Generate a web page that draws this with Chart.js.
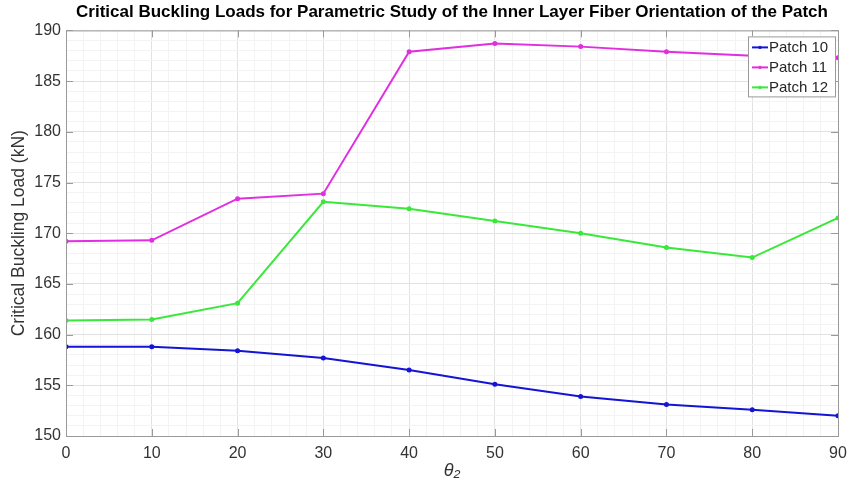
<!DOCTYPE html>
<html>
<head>
<meta charset="utf-8">
<script src="https://cdn.jsdelivr.net/npm/chart.js@4/dist/chart.umd.min.js"></script>
<style>
  html, body { margin: 0; padding: 0; background: #fff; }
  #wrap { width: 858px; height: 492px; }
</style>
</head>
<body>
<div id="wrap"><canvas id="c" width="858" height="492"></canvas></div>
<script>
// θ2 values (deg)
const theta = [0, 10, 20, 30, 40, 50, 60, 70, 80, 90];
// critical buckling loads (kN)
const patch10 = [158.8, 158.8, 158.4, 157.7, 156.5, 155.1, 153.9, 153.1, 152.6, 152.0];
const patch11 = [169.2, 169.3, 173.4, 173.9, 187.9, 188.7, 188.4, 187.9, 187.5, 187.3];
const patch12 = [161.4, 161.5, 163.1, 173.1, 172.4, 171.2, 170.0, 168.6, 167.6, 171.5];

const FONT = '"Liberation Sans", Arial, sans-serif';

const toXY = (ys) => ys.map((y, i) => ({ x: theta[i], y }));

const mkSet = (label, ys, color) => ({
    label,
    data: toXY(ys),
    borderColor: color,
    backgroundColor: color,
    borderWidth: 2,
    pointRadius: 1.5,
    pointHoverRadius: 2,
    tension: 0,
    fill: false,
});

// box round the plot, like MATLAB "box on"
const boxPlugin = {
    id: 'box',
    afterDraw(chart) {
        const { ctx, chartArea: a } = chart;
        ctx.save();
        ctx.strokeStyle = '#9a9a9a';
        ctx.lineWidth = 1;
        ctx.strokeRect(a.left + 0.5, a.top + 0.5, a.right - a.left, a.bottom - a.top);
        // inward tick marks
        const xs = chart.scales.x, ys = chart.scales.y;
        ctx.beginPath();
        for (let v = 0; v <= 90; v += 10) {
            const px = Math.round(xs.getPixelForValue(v)) + 0.5;
            ctx.moveTo(px, a.bottom); ctx.lineTo(px, a.bottom - 7);
            ctx.moveTo(px, a.top); ctx.lineTo(px, a.top + 7);
        }
        for (let v = 150; v <= 190; v += 5) {
            const py = Math.round(ys.getPixelForValue(v)) + 0.5;
            ctx.moveTo(a.left, py); ctx.lineTo(a.left + 7, py);
            ctx.moveTo(a.right, py); ctx.lineTo(a.right - 7, py);
        }
        ctx.stroke();
        ctx.restore();
    },
};

// legend drawn inside the top-right corner
const legendPlugin = {
    id: 'insideLegend',
    afterDraw(chart) {
        const { ctx, chartArea: a } = chart;
        const sets = chart.data.datasets;
        const w = 87, rowH = 20;
        const x0 = a.right - w - 3, y0 = a.top + 6;
        const h = rowH * sets.length;
        ctx.save();
        ctx.fillStyle = '#fff';
        ctx.fillRect(x0, y0, w, h);
        ctx.strokeStyle = '#9a9a9a';
        ctx.lineWidth = 1;
        ctx.strokeRect(x0 + 0.5, y0 + 0.5, w, h);
        ctx.font = '15px ' + FONT;
        ctx.textBaseline = 'middle';
        sets.forEach((ds, i) => {
            const cy = y0 + rowH * i + rowH / 2 + 1;
            ctx.strokeStyle = ds.borderColor;
            ctx.lineWidth = 2;
            ctx.beginPath();
            ctx.moveTo(x0 + 4, cy); ctx.lineTo(x0 + 20, cy);
            ctx.stroke();
            ctx.fillStyle = ds.borderColor;
            ctx.beginPath();
            ctx.arc(x0 + 12, cy, 1.6, 0, Math.PI * 2);
            ctx.fill();
            ctx.fillStyle = '#262626';
            ctx.fillText(ds.label, x0 + 21, cy);
        });
        ctx.restore();
    },
};

const isMajor = (v, step) => Math.abs(v / step - Math.round(v / step)) < 1e-6;

new Chart(document.getElementById('c'), {
    type: 'line',
    data: {
        datasets: [
            mkSet('Patch 10', patch10, '#1414d4'),
            mkSet('Patch 11', patch11, '#e02ee0'),
            mkSet('Patch 12', patch12, '#3ae83a'),
        ],
    },
    options: {
        responsive: false,
        animation: false,
        events: [],
        layout: { padding: { left: 0, right: 20, top: 0, bottom: 0 } },
        plugins: {
            legend: { display: false },
            tooltip: { enabled: false },
            title: {
                display: true,
                fullSize: false, // centre over the plot, as MATLAB does
                text: 'Critical Buckling Loads for Parametric Study of the Inner Layer Fiber Orientation of the Patch',
                color: '#000',
                font: { family: FONT, size: 17, weight: 'bold' },
                padding: { top: 2, bottom: 8 },
                align: 'center',
            },
        },
        scales: {
            x: {
                type: 'linear',
                min: 0,
                max: 90,
                afterFit: (s) => { s.height = 56; },
                ticks: {
                    stepSize: 2,
                    autoSkip: false,
                    maxRotation: 0,
                    padding: 8,
                    color: '#333',
                    font: { family: FONT, size: 16 },
                    callback: (v) => isMajor(v, 10) ? v : '',
                },
                grid: {
                    drawTicks: false,
                    color: (c) => isMajor(c.tick.value, 10) ? '#e2e2e2' : '#f3f3f3',
                },
                border: { color: '#9a9a9a' },
                title: {
                    display: true,
                    text: 'θ₂',
                    color: '#333',
                    font: { family: FONT, size: 18, style: 'italic' },
                    padding: { top: 0, bottom: 10 },
                },
            },
            y: {
                min: 150,
                max: 190,
                afterFit: (s) => { s.width = 66; },
                ticks: {
                    stepSize: 1,
                    autoSkip: false,
                    padding: 5,
                    color: '#333',
                    font: { family: FONT, size: 16 },
                    callback: (v) => isMajor(v, 5) ? v : '',
                },
                grid: {
                    drawTicks: false,
                    color: (c) => isMajor(c.tick.value, 5) ? '#e2e2e2' : '#f3f3f3',
                },
                border: { color: '#9a9a9a' },
                title: {
                    display: true,
                    text: 'Critical Buckling Load (kN)',
                    color: '#333',
                    font: { family: FONT, size: 17.5 },
                    padding: { top: 9, bottom: 0 },
                },
            },
        },
    },
    plugins: [boxPlugin, legendPlugin],
});
</script>
</body>
</html>
